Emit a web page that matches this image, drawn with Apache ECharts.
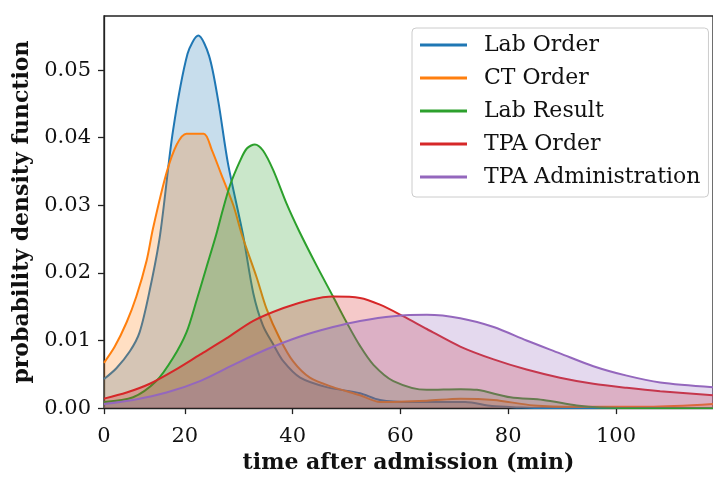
<!DOCTYPE html>
<html>
<head>
<meta charset="utf-8">
<script src="https://cdn.jsdelivr.net/npm/echarts@6/dist/echarts.min.js"></script>
<style>
html,body{margin:0;padding:0;background:#fff;}
#chart{width:713px;height:479px;}
</style>
</head>
<body>
<div id="chart"></div>
<script>
// ---- data ----
const seriesNames = ['Lab Order', 'CT Order', 'Lab Result', 'TPA Order', 'TPA Administration'];

const labOrderX = [5, 7.3, 9.8, 11.6, 13.5, 15.4, 17.8, 20.5, 22.5, 24.5, 26.2, 28.0, 30.8, 32.7, 34.5, 36.5, 38.3, 41.4, 46.3, 52.5, 56.2, 62, 68, 72, 77, 82, 86, 95, 118];
const labOrderY = [0.0043, 0.0059, 0.0084, 0.0112, 0.0175, 0.0256, 0.0410, 0.0524, 0.0551, 0.0521, 0.0454, 0.0362, 0.0256, 0.0170, 0.0122, 0.0093, 0.0069, 0.0045, 0.0031, 0.0022, 0.0012, 0.0009, 0.0009, 0.0009, 0.0003, 0.0001, 0, 0, 0];

const ctOrderX = [5, 7, 9.2, 11, 12.9, 14.1, 16.6, 18.5, 20.3, 23.5, 25, 26.8, 29, 30.6, 33.3, 35.2, 37.6, 40.1, 43.2, 47.5, 52.5, 56.2, 64.9, 71.1, 77.3, 84.7, 92.7, 106, 118];
const ctOrderY = [0.0067, 0.0091, 0.0127, 0.0165, 0.0218, 0.0266, 0.0348, 0.0390, 0.0406, 0.0406, 0.0382, 0.0345, 0.0300, 0.0256, 0.0194, 0.0146, 0.0103, 0.0069, 0.0045, 0.0031, 0.0019, 0.0009, 0.0011, 0.0014, 0.0012, 0.0004, 0.0002, 0.0002, 0.0006];

const labResultX = [5, 10.4, 14.7, 17.8, 20.3, 22.2, 24.0, 25.8, 27.0, 28.4, 30.2, 31.5, 33.0, 34.5, 36.4, 38.9, 41.2, 44.5, 47.5, 50.0, 52.5, 55.0, 58.7, 64.9, 71.1, 74.2, 80.4, 86.5, 92.7, 97.1, 105, 118];
const labResultY = [0.0009, 0.0016, 0.0040, 0.0074, 0.0112, 0.0160, 0.0208, 0.0256, 0.0292, 0.0330, 0.0365, 0.0384, 0.0390, 0.0381, 0.0352, 0.0302, 0.0262, 0.0210, 0.0165, 0.0127, 0.0092, 0.0064, 0.0040, 0.0027, 0.0028, 0.0027, 0.0016, 0.0012, 0.0004, 0.0001, 0, 0];

const tpaOrderX = [5, 9.2, 13.5, 17.9, 22.8, 27.7, 32.7, 38.3, 43.2, 47.5, 52.5, 56.2, 60.5, 64.9, 71.1, 77.3, 83.4, 89.6, 95.8, 102, 108.2, 118];
const tpaOrderY = [0.0014, 0.0023, 0.0036, 0.0055, 0.0079, 0.0103, 0.0129, 0.0148, 0.0160, 0.0165, 0.0163, 0.0153, 0.0136, 0.0117, 0.0091, 0.0072, 0.0057, 0.0045, 0.0036, 0.0030, 0.0025, 0.0019];

const tpaAdminX = [5, 10.4, 16.6, 22.8, 29.0, 35.2, 41.4, 47.5, 52.5, 58.7, 64.9, 71.1, 77.3, 83.4, 89.6, 95.8, 102, 108.2, 118];
const tpaAdminY = [0.0006, 0.0012, 0.0023, 0.0040, 0.0064, 0.0087, 0.0106, 0.0120, 0.0129, 0.0136, 0.0138, 0.0133, 0.0120, 0.0100, 0.0081, 0.0062, 0.0048, 0.0038, 0.0031];

const xTickValues = [5, 20, 40, 60, 80, 100];
const xTickLabels = ['0', '20', '40', '60', '80', '100'];
const yTickValues = [0, 0.01, 0.02, 0.03, 0.04, 0.05];
const yTickLabels = ['0.00', '0.01', '0.02', '0.03', '0.04', '0.05'];

const colors = ['#1f77b4', '#ff7f0e', '#2ca02c', '#d62728', '#9467bd'];

// ---- build ----
const xsList = [labOrderX, ctOrderX, labResultX, tpaOrderX, tpaAdminX];
const ysList = [labOrderY, ctOrderY, labResultY, tpaOrderY, tpaAdminY];
const FONT = 'DejaVu Serif';

const series = seriesNames.map((name, i) => ({
  name: name,
  type: 'line',
  data: xsList[i].map((x, j) => [x, ysList[i][j]]),
  smooth: 0.3,
  symbol: 'none',
  lineStyle: { color: colors[i], width: 2 },
  itemStyle: { color: colors[i] },
  areaStyle: { color: colors[i], opacity: 0.25 },
  z: 2 + i
}));

const chart = echarts.init(document.getElementById('chart'), null, { renderer: 'canvas' });
chart.setOption({
  animation: false,
  backgroundColor: '#fff',
  grid: {
    left: 104, top: 16, right: -3, bottom: 61,
    show: true, borderColor: '#222', borderWidth: 1.3, backgroundColor: 'transparent'
  },
  legend: {
    orient: 'vertical',
    left: 412, top: 28,
    icon: 'rect',
    itemWidth: 47, itemHeight: 3,
    itemGap: 11,
    padding: [6, 8, 9, 8],
    borderColor: '#cccccc', borderWidth: 1, borderRadius: 4,
    backgroundColor: 'rgba(255,255,255,0.8)',
    textStyle: { fontFamily: FONT, fontSize: 22, color: '#111', lineHeight: 22, padding: [0, 0, 0, 12] },
    data: seriesNames.map((n, i) => ({ name: n, itemStyle: { color: colors[i] } }))
  },
  xAxis: {
    type: 'value', min: 5, max: 118,
    name: 'time after admission (min)',
    nameLocation: 'middle', nameGap: 41,
    nameTextStyle: { fontFamily: FONT, fontWeight: 'bold', fontSize: 22, color: '#111' },
    axisLine: { show: true, onZero: false, lineStyle: { color: '#222', width: 1.3 } },
    axisTick: { show: true, length: 6, lineStyle: { color: '#222', width: 1.3 }, customValues: xTickValues },
    axisLabel: {
      fontFamily: FONT, fontSize: 21, color: '#111', margin: 18,
      customValues: xTickValues,
      formatter: v => xTickLabels[xTickValues.indexOf(v)] || ''
    },
    splitLine: { show: false }
  },
  yAxis: {
    type: 'value', min: 0, max: 0.058,
    name: 'probability density function',
    nameLocation: 'middle', nameGap: 67,
    nameTextStyle: { fontFamily: FONT, fontWeight: 'bold', fontSize: 22, color: '#111' },
    axisLine: { show: true, lineStyle: { color: '#222', width: 1.3 } },
    axisTick: { show: true, length: 6, lineStyle: { color: '#222', width: 1.3 }, customValues: yTickValues },
    axisLabel: {
      fontFamily: FONT, fontSize: 21, color: '#111', margin: 13,
      customValues: yTickValues,
      formatter: v => yTickLabels[yTickValues.indexOf(v)] || ''
    },
    splitLine: { show: false }
  },
  series: series
});
</script>
</body>
</html>
